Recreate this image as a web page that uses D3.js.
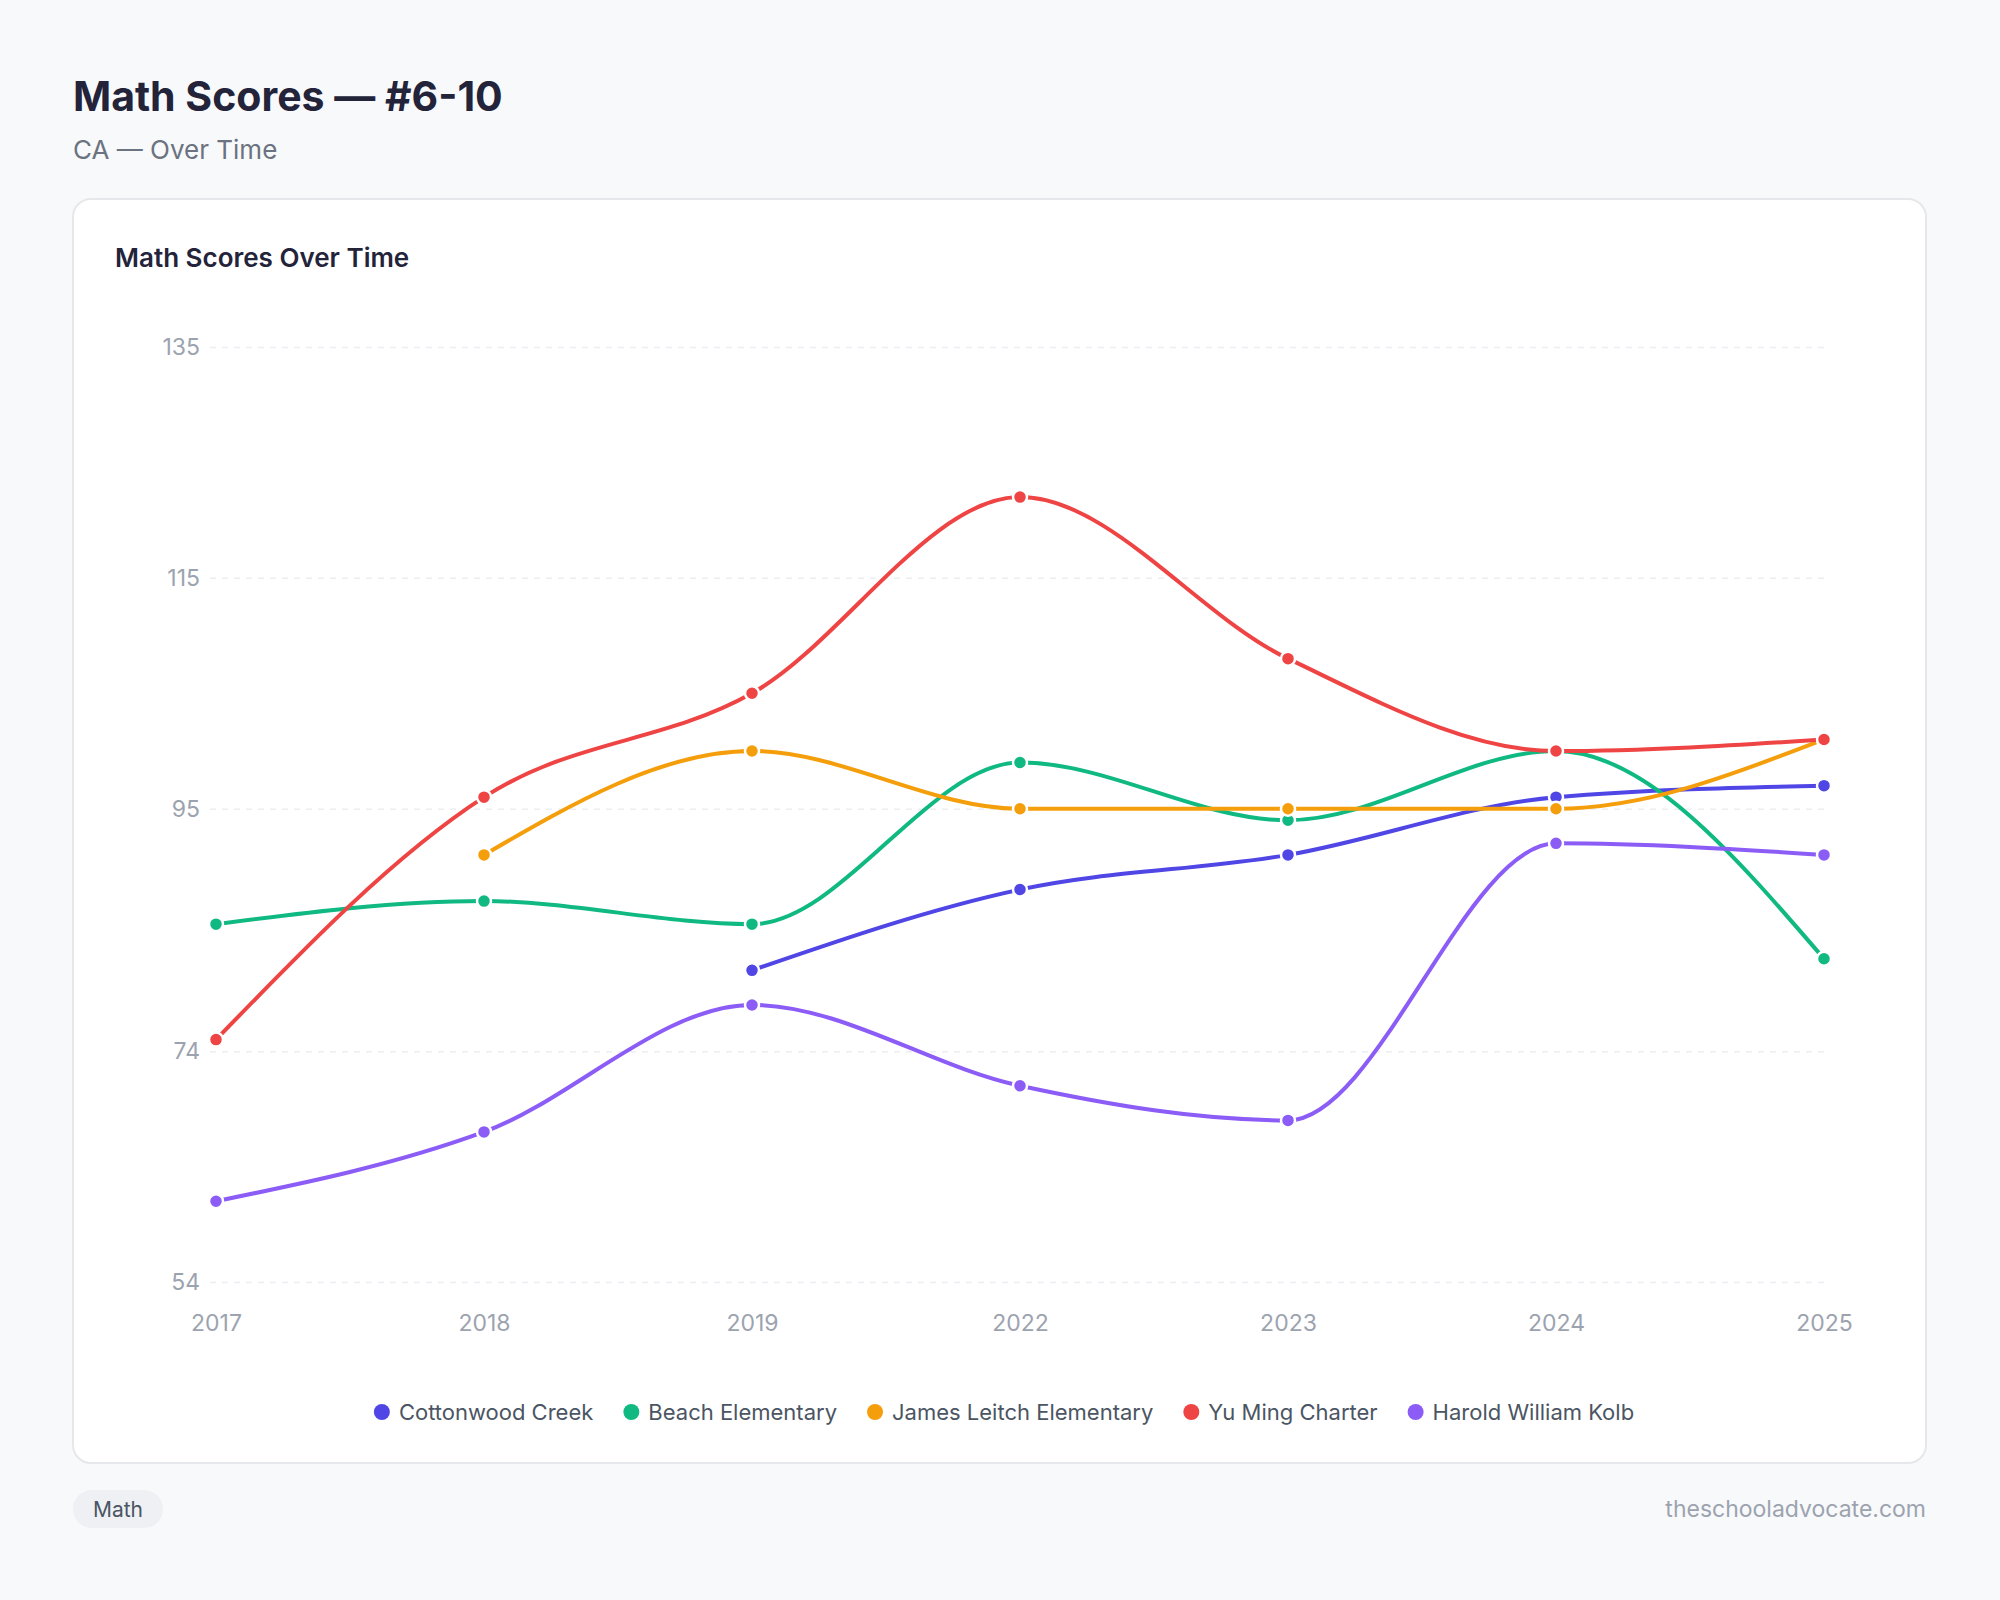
<!DOCTYPE html>
<html><head><meta charset="utf-8">
<script src="https://cdn.jsdelivr.net/npm/d3@7"></script>
<style>
body{margin:0;background:#f8f9fb;font-family:Inter,"Noto Sans",sans-serif;}
</style></head>
<body><svg id="chart"></svg>
<script>
const years = ['2017','2018','2019','2022','2023','2024','2025'];
const yTicks = [54, 74, 95, 115, 135];
const seriesNames = ['Cottonwood Creek','Beach Elementary','James Leitch Elementary','Yu Ming Charter','Harold William Kolb'];
const seriesColors = ['#4f46e5','#10b981','#f59e0b','#ef4444','#8b5cf6'];
const cottonwood = [null, null, 81, 88, 91, 96, 97];
const beach = [85, 87, 85, 99, 94, 100, 82];
const leitch = [null, 91, 100, 95, 95, 95, 101];
const yuming = [75, 96, 105, 122, 108, 100, 101];
const kolb = [61, 67, 78, 71, 68, 92, 91];
const seriesValues = [cottonwood, beach, leitch, yuming, kolb];

const W = 2000, H = 1600;
const svg = d3.select('#chart').attr('width', W).attr('height', H);

svg.append('text').attr('x', 73).attr('y', 111).attr('font-size', 41).attr('font-weight', 700)
  .attr('fill', '#23233a').text('Math Scores — #6-10');
svg.append('text').attr('x', 73).attr('y', 159).attr('font-size', 26).attr('fill', '#6b7280')
  .text('CA — Over Time');

svg.append('rect').attr('x', 73).attr('y', 199).attr('width', 1853).attr('height', 1264)
  .attr('rx', 18).attr('fill', '#fff').attr('stroke', '#e5e7eb').attr('stroke-width', 2);
svg.append('text').attr('x', 115).attr('y', 267).attr('font-size', 26).attr('font-weight', 600)
  .attr('fill', '#23233a').text('Math Scores Over Time');

const x = d3.scalePoint().domain(years).range([216, 1824]);
const y = d3.scaleLinear().domain([54, 135]).range([1282, 347]);

const yAxis = d3.axisLeft(y).tickValues(yTicks).tickSize(-(1824 - 210)).tickPadding(10);
svg.append('g').attr('transform', 'translate(210,0)').call(yAxis)
  .call(g => g.select('.domain').remove())
  .call(g => g.selectAll('.tick line').attr('stroke', '#eceef2').attr('stroke-dasharray', '6,6').attr('stroke-width', 1.5))
  .call(g => g.selectAll('.tick text').attr('fill', '#9ca3af').attr('font-size', 23).attr('font-family', 'Inter'));

const xAxis = d3.axisBottom(x).tickSize(0).tickPadding(10);
svg.append('g').attr('transform', 'translate(0,1305)').call(xAxis)
  .call(g => g.select('.domain').remove())
  .call(g => g.selectAll('.tick text').attr('fill', '#9ca3af').attr('font-size', 23).attr('font-family', 'Inter'));

const line = d3.line().x(d => x(d.year)).y(d => y(d.v)).curve(d3.curveMonotoneX);

seriesValues.forEach((vals, i) => {
  const pts = vals.map((v, j) => ({year: years[j], v})).filter(d => d.v != null);
  svg.append('path').datum(pts).attr('d', line).attr('fill', 'none')
    .attr('stroke', seriesColors[i]).attr('stroke-width', 4);
  svg.selectAll(null).data(pts).enter().append('circle')
    .attr('cx', d => x(d.year)).attr('cy', d => y(d.v)).attr('r', 7)
    .attr('fill', seriesColors[i]).attr('stroke', '#fff').attr('stroke-width', 2.5);
});

// legend
const legend = svg.append('g').attr('transform', 'translate(0,1412)');
const items = [];
seriesNames.forEach((n, i) => {
  const g = legend.append('g');
  g.append('circle').attr('cx', 0).attr('cy', 0).attr('r', 8).attr('fill', seriesColors[i]);
  const t = g.append('text').attr('x', 17).attr('y', 8).attr('font-size', 22).attr('fill', '#4b5563').text(n);
  items.push({g, w: 17 + t.node().getComputedTextLength()});
});
const gap = 38;
const total = d3.sum(items, d => d.w) + gap * (items.length - 1);
let lx = 1000 - total / 2 + 8;
items.forEach(it => { it.g.attr('transform', `translate(${lx},0)`); lx += it.w + gap; });

svg.append('rect').attr('x', 73).attr('y', 1490).attr('width', 90).attr('height', 38).attr('rx', 19).attr('fill', '#eef0f3');
svg.append('text').attr('x', 118).attr('y', 1517).attr('text-anchor', 'middle').attr('font-size', 21).attr('fill', '#4b5563').text('Math');
svg.append('text').attr('x', 1926).attr('y', 1517).attr('text-anchor', 'end').attr('font-size', 23).attr('fill', '#9ca3af').text('theschooladvocate.com');
</script></body></html>
